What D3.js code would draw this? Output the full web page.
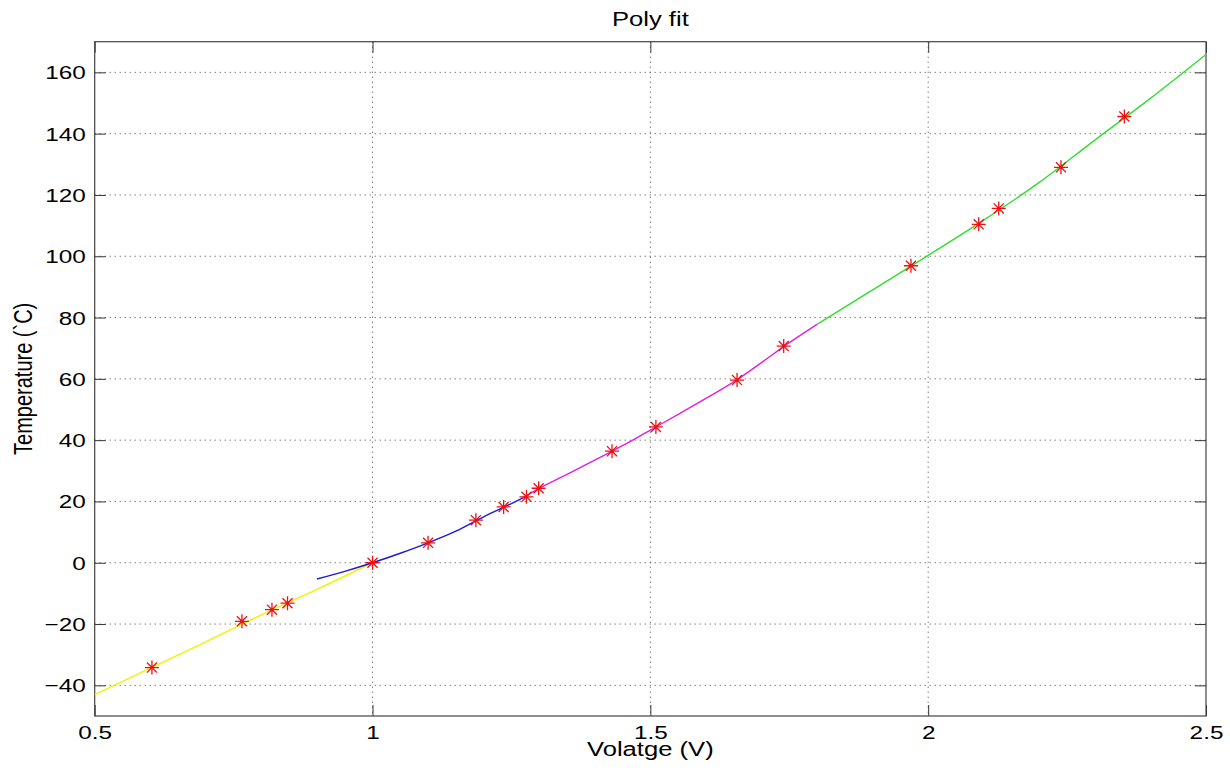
<!DOCTYPE html>
<html>
<head>
<meta charset="utf-8">
<script src="https://cdn.jsdelivr.net/npm/d3@7/dist/d3.min.js"></script>
<style>
  body { margin: 0; background: #fff; }
  text { font-family: "Liberation Sans", Arial, sans-serif; fill: #000; }
</style>
</head>
<body>
<div id="chart"></div>
<script>
// measured points (voltage, temperature)
var voltage = [0.603, 0.765, 0.819, 0.847, 1.0, 1.100, 1.186, 1.236, 1.277, 1.299,
               1.431, 1.510, 1.656, 1.740, 1.969, 2.091, 2.127, 2.239, 2.353];
var temperature = [-34.2, -19.1, -15.3, -13.2, 0, 6.5, 13.9, 18.2, 21.5, 24.3,
                   36.4, 44.3, 59.6, 70.7, 96.9, 110.4, 115.6, 129.0, 145.6];

// fitted pieces
var fitYellowV = [0.5, 0.6, 0.7, 0.8, 0.9, 1.0];
var fitYellowT = [-43.0, -34.4, -25.8, -17.0, -8.7, 0];
var fitBlueV = [0.9, 0.95, 1.0, 1.05, 1.1, 1.15, 1.2, 1.25, 1.28];
var fitBlueT = [-5.3, -2.8, 0, 3.1, 6.5, 10.3, 15.0, 19.3, 22.0];
var fitMagentaV = [1.27, 1.3, 1.35, 1.4, 1.45, 1.5, 1.55, 1.6, 1.65, 1.7, 1.75, 1.8];
var fitMagentaT = [21.2, 24.3, 28.8, 33.5, 38.2, 43.3, 48.4, 53.6, 59.0, 65.3, 71.8, 77.8];
var fitGreenV = [1.8, 1.9, 2.0, 2.1, 2.2, 2.3, 2.4, 2.5];
var fitGreenT = [77.8, 89.0, 100.3, 111.8, 124.1, 137.9, 151.5, 165.8];

var xTicks = [0.5, 1, 1.5, 2, 2.5];
var yTicks = [-40, -20, 0, 20, 40, 60, 80, 100, 120, 140, 160];

    // dimensions of the figure and the axes box
    var W = 1230, H = 770;
    var boxL = 94.7, boxR = 1206, boxT = 41.7, boxB = 716;
    var stretch = 1.28;   // the picture's text is wider than it is tall

    var x = d3.scaleLinear().domain([0.5, 2.5]).range([boxL, boxR]);
    var y = d3.scaleLinear().domain([-50, 170]).range([boxB, boxT]);

    var svg = d3.select("#chart").append("svg")
        .attr("width", W)
        .attr("height", H);

    // dotted grid
    svg.append("g").selectAll("line")
        .data(yTicks)
      .enter().append("line")
        .attr("x1", boxL).attr("x2", boxR)
        .attr("y1", function(d) { return y(d); })
        .attr("y2", function(d) { return y(d); })
        .attr("stroke", "#444")
        .attr("stroke-dasharray", "1,4");

    svg.append("g").selectAll("line")
        .data(xTicks.slice(1, -1))
      .enter().append("line")
        .attr("y1", boxT).attr("y2", boxB)
        .attr("x1", function(d) { return x(d); })
        .attr("x2", function(d) { return x(d); })
        .attr("stroke", "#444")
        .attr("stroke-dasharray", "1,4");

    // axes, ticks pointing inward on all four sides
    var gx = svg.append("g")
        .attr("transform", "translate(0," + boxB + ")")
        .call(d3.axisBottom(x).tickValues(xTicks).tickSize(-11).tickPadding(10)
              .tickFormat(d3.format("")));
    var gy = svg.append("g")
        .attr("transform", "translate(" + boxL + ",0)")
        .call(d3.axisLeft(y).tickValues(yTicks).tickSize(-11).tickPadding(7));
    svg.append("g")
        .attr("transform", "translate(0," + boxT + ")")
        .call(d3.axisTop(x).tickValues(xTicks).tickSize(-11).tickFormat(""));
    svg.append("g")
        .attr("transform", "translate(" + boxR + ",0)")
        .call(d3.axisRight(y).tickValues(yTicks).tickSize(-11).tickFormat(""));

    svg.selectAll(".domain").remove();
    svg.selectAll(".tick line").attr("stroke", "#333");
    svg.selectAll(".tick text")
        .attr("font-family", "Liberation Sans, Arial, sans-serif")
        .attr("font-size", 19)
        .attr("fill", "#000")
        .attr("transform", "scale(" + stretch + ",1)");
    gy.selectAll(".tick text").attr("dy", "0.34em");

    svg.append("rect")
        .attr("x", boxL).attr("y", boxT)
        .attr("width", boxR - boxL).attr("height", boxB - boxT)
        .attr("fill", "none")
        .attr("stroke", "#444")
        .attr("stroke-width", 1.2);

    // fitted curves
    var fits = [
      {v: fitYellowV, t: fitYellowT, color: "#f2f200"},
      {v: fitBlueV, t: fitBlueT, color: "#1a1ad8"},
      {v: fitMagentaV, t: fitMagentaT, color: "#e020e0"},
      {v: fitGreenV, t: fitGreenT, color: "#30dd30"}
    ];
    var fitLine = d3.line()
        .x(function(d) { return x(d[0]); })
        .y(function(d) { return y(d[1]); })
        .curve(d3.curveMonotoneX);

    fits.forEach(function(f) {
      svg.append("path")
          .datum(d3.zip(f.v, f.t))
          .attr("fill", "none")
          .attr("stroke", f.color)
          .attr("stroke-width", 1.4)
          .attr("d", fitLine);
    });

    // asterisk markers
    var r = 7, q = r * 0.72;
    var star = "M" + (-r) + ",0H" + r + "M0," + (-r) + "V" + r +
               "M" + (-q) + "," + (-q) + "L" + q + "," + q +
               "M" + (-q) + "," + q + "L" + q + "," + (-q);
    svg.append("g").selectAll("path")
        .data(d3.zip(voltage, temperature))
      .enter().append("path")
        .attr("transform", function(d) { return "translate(" + x(d[0]) + "," + y(d[1]) + ")"; })
        .attr("d", star)
        .attr("fill", "none")
        .attr("stroke", "#ee1111")
        .attr("stroke-width", 1.3);

    // title and axis labels
    svg.append("text")
        .attr("transform", "translate(" + ((boxL + boxR) / 2) + ",26) scale(" + stretch + ",1)")
        .attr("text-anchor", "middle")
        .attr("font-size", 20)
        .text("Poly fit");

    svg.append("text")
        .attr("transform", "translate(" + ((boxL + boxR) / 2) + ",756) scale(" + stretch + ",1)")
        .attr("text-anchor", "middle")
        .attr("font-size", 20)
        .text("Volatge (V)");

    svg.append("text")
        .attr("transform", "translate(32," + ((boxT + boxB) / 2) + ") scale(" + stretch + ",1) rotate(-90)")
        .attr("text-anchor", "middle")
        .attr("font-size", 20)
        .text("Temperature (`C)");
</script>
</body>
</html>
